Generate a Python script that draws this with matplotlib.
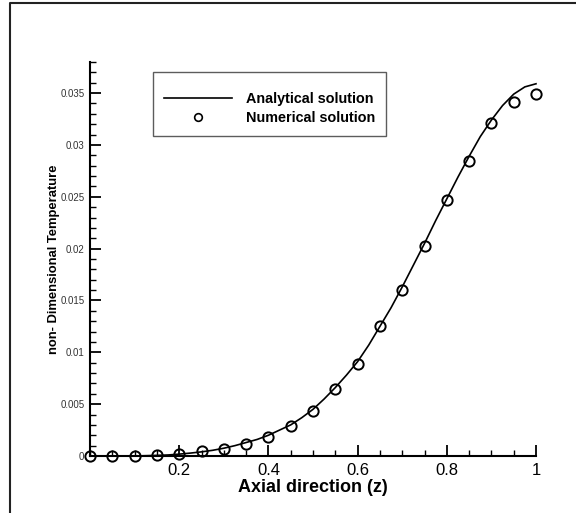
import matplotlib
matplotlib.use("Agg")
import matplotlib.pyplot as plt
from matplotlib.lines import Line2D
from matplotlib.ticker import MultipleLocator, FixedLocator

plt.rcParams['font.family'] = ['Liberation Sans', 'DejaVu Sans']

# Analytical solution along the axis
z_analytical = [0.0, 0.025, 0.05, 0.075, 0.1, 0.125, 0.15, 0.175, 0.2, 0.225,
                0.25, 0.275, 0.3, 0.325, 0.35, 0.375, 0.4, 0.425, 0.45, 0.475,
                0.5, 0.525, 0.55, 0.575, 0.6, 0.625, 0.65, 0.675, 0.7, 0.725,
                0.75, 0.775, 0.8, 0.825, 0.85, 0.875, 0.9, 0.925, 0.95, 0.975, 1.0]
t_analytical = [0.0, 0.0, 0.0, 0.0, 0.0, 0.00003, 0.00006, 0.0001, 0.00018, 0.00028,
                0.0004, 0.00055, 0.00075, 0.001, 0.0013, 0.0016, 0.002, 0.0025, 0.003, 0.0037,
                0.0045, 0.0055, 0.0066, 0.0078, 0.0091, 0.0107, 0.0125, 0.0143, 0.0163, 0.0184,
                0.0205, 0.0227, 0.0248, 0.0269, 0.0289, 0.0308, 0.0324, 0.0338, 0.0349, 0.0356, 0.0359]

# Numerical solution at grid nodes
z_numerical = [0.0, 0.05, 0.1, 0.15, 0.2, 0.25, 0.3, 0.35, 0.4, 0.45, 0.5,
               0.55, 0.6, 0.65, 0.7, 0.75, 0.8, 0.85, 0.9, 0.95, 1.0]
t_numerical = [0.0, 0.0, 0.0, 0.0001, 0.0002, 0.0005, 0.0007, 0.0012, 0.0018, 0.0029, 0.0043,
               0.0065, 0.0089, 0.0125, 0.016, 0.0203, 0.0247, 0.0285, 0.0321, 0.0341, 0.0349]

x_major = [0.2, 0.4, 0.6, 0.8, 1.0]
x_major_labels = ['0.2', '0.4', '0.6', '0.8', '1']
y_major = [0.0, 0.005, 0.01, 0.015, 0.02, 0.025, 0.03, 0.035]
y_major_labels = ['0', '0.005', '0.01', '0.015', '0.02', '0.025', '0.03', '0.035']

fig = plt.figure(figsize=(5.76, 5.13), dpi=100)
ax = fig.add_axes([90 / 576, 57 / 513, 446 / 576, 394 / 513])

ax.plot(z_analytical, t_analytical, color='black', lw=1.2, clip_on=False,
        label='Analytical solution', zorder=3)
ax.plot(z_numerical, t_numerical, linestyle='none', marker='o', ms=7.4,
        mfc='none', mec='black', mew=1.4, clip_on=False,
        label='Numerical solution', zorder=4)

ax.set_xlim(0, 1)
ax.set_ylim(0, 0.038)

for side in ('top', 'right'):
    ax.spines[side].set_visible(False)
for side in ('left', 'bottom'):
    ax.spines[side].set_linewidth(1.5)

ax.xaxis.set_major_locator(FixedLocator(x_major))
ax.set_xticklabels(x_major_labels)
ax.xaxis.set_minor_locator(MultipleLocator(0.05))
ax.yaxis.set_major_locator(FixedLocator(y_major))
ax.set_yticklabels(y_major_labels)
ax.yaxis.set_minor_locator(MultipleLocator(0.001))

ax.tick_params(axis='x', which='major', direction='in', length=8, width=1.3,
               labelsize=12, pad=5)
ax.tick_params(axis='x', which='minor', direction='in', length=4, width=1.0)
ax.tick_params(axis='y', which='major', direction='in', length=8, width=1.3,
               labelsize=7, labelcolor='#333333', pad=4)
ax.tick_params(axis='y', which='minor', direction='in', length=4, width=1.0)

ax.set_xlabel('Axial direction (z)', fontsize=13, fontweight='bold', labelpad=1)
ax.set_ylabel('non- Dimensional Temperature', fontsize=9.4, fontweight='bold',
              labelpad=0)

handles = [Line2D([], [], color='black', lw=1.2),
           Line2D([], [], linestyle='none', marker='o', ms=5.5, mfc='none',
                  mec='black', mew=1.2)]
leg = ax.legend(handles, ['Analytical solution', 'Numerical solution'],
                loc='upper left', bbox_to_anchor=(153 / 576, 1 - 72 / 513),
                bbox_transform=fig.transFigure, frameon=True, fancybox=False,
                prop={'weight': 'bold', 'size': 10.4}, handlelength=4.7,
                handletextpad=1.0, borderpad=0.75, labelspacing=0.35,
                borderaxespad=0, title=' ', title_fontsize=2.5)
leg.get_frame().set_edgecolor('#333333')
leg.get_frame().set_linewidth(1.0)

# Outer frame line along the top and left edges
fig.add_artist(Line2D([10 / 576, 10 / 576, 1.0], [0.0, 1 - 3 / 513, 1 - 3 / 513],
                      transform=fig.transFigure, color='#222222', lw=1.5))

fig.savefig('out.png', dpi=100)
